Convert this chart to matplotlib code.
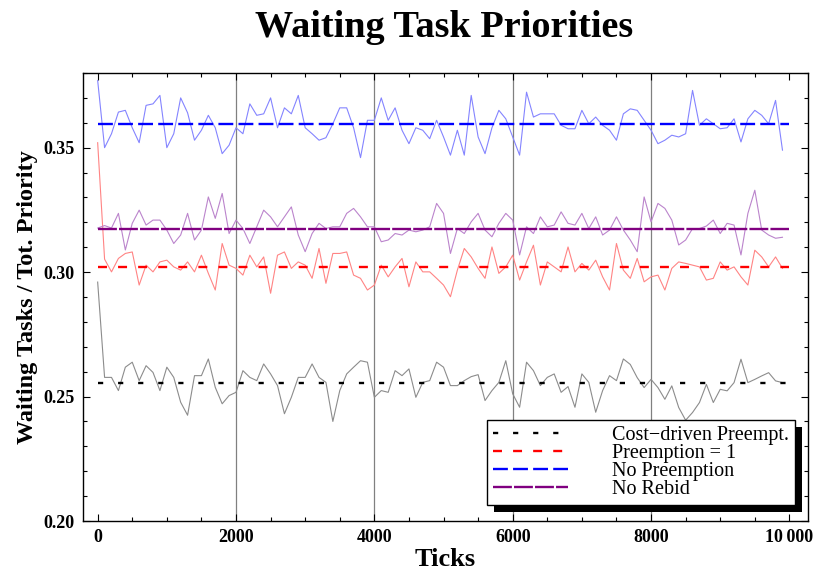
import matplotlib

matplotlib.use("Agg")
import matplotlib.pyplot as plt
import numpy as np
from matplotlib.patches import Rectangle
from matplotlib.ticker import MultipleLocator
from matplotlib.transforms import IdentityTransform

plt.rcParams["font.family"] = ["Liberation Serif", "DejaVu Serif"]

# Simulation ticks (one sample every 100 ticks)
ticks = np.arange(0, 9901, 100)
run_length = 10000

cost_driven = [
    0.2960, 0.2577, 0.2577, 0.2524, 0.2618, 0.2638, 0.2564, 0.2624, 0.2597, 0.2524,
    0.2618, 0.2577, 0.2477, 0.2425, 0.2584, 0.2584, 0.2651, 0.2537, 0.2471, 0.2504,
    0.2517, 0.2604, 0.2577, 0.2564, 0.2631, 0.2591, 0.2544, 0.2431, 0.2497, 0.2577,
    0.2577, 0.2631, 0.2577, 0.2557, 0.2400, 0.2524, 0.2591, 0.2618, 0.2644, 0.2638,
    0.2497, 0.2524, 0.2517, 0.2604, 0.2584, 0.2611, 0.2497, 0.2557, 0.2564, 0.2638,
    0.2618, 0.2544, 0.2544, 0.2564, 0.2580, 0.2588, 0.2484, 0.2524, 0.2557, 0.2644,
    0.2511, 0.2457, 0.2638, 0.2604, 0.2544, 0.2577, 0.2591, 0.2517, 0.2540, 0.2457,
    0.2591, 0.2557, 0.2437, 0.2524, 0.2584, 0.2564, 0.2651, 0.2629, 0.2576, 0.2536,
    0.2569, 0.2536, 0.2489, 0.2543, 0.2456, 0.2405, 0.2436, 0.2476, 0.2549, 0.2476,
    0.2529, 0.2523, 0.2556, 0.2650, 0.2556, 0.2569, 0.2583, 0.2596, 0.2563, 0.2556,
]
preemption_one = [
    0.3520, 0.3052, 0.3001, 0.3055, 0.3075, 0.3081, 0.2948, 0.3028, 0.3001, 0.3041,
    0.3048, 0.3021, 0.3008, 0.3041, 0.3001, 0.3068, 0.2995, 0.2928, 0.3115, 0.3028,
    0.3015, 0.2988, 0.3068, 0.3021, 0.3061, 0.2915, 0.3068, 0.3081, 0.3015, 0.3041,
    0.3028, 0.2975, 0.3095, 0.2955, 0.3075, 0.3075, 0.3081, 0.2988, 0.2975, 0.2928,
    0.2948, 0.3028, 0.2981, 0.3021, 0.3055, 0.2941, 0.3041, 0.3001, 0.3001, 0.2975,
    0.2948, 0.2901, 0.3008, 0.3095, 0.3061, 0.3015, 0.2975, 0.3101, 0.2995, 0.3021,
    0.3068, 0.2968, 0.3041, 0.3108, 0.2948, 0.3041, 0.3021, 0.3001, 0.3101, 0.3001,
    0.3035, 0.3008, 0.3048, 0.2981, 0.2928, 0.3115, 0.3008, 0.2975, 0.3055, 0.2961,
    0.2981, 0.2988, 0.2928, 0.3015, 0.3041, 0.3035, 0.3028, 0.3021, 0.2968, 0.2975,
    0.3041, 0.3008, 0.3021, 0.2981, 0.2948, 0.3088, 0.3061, 0.3021, 0.3061, 0.3015,
]
no_preemption = [
    0.3770, 0.3500, 0.3556, 0.3643, 0.3650, 0.3580, 0.3520, 0.3670, 0.3676, 0.3710,
    0.3500, 0.3556, 0.3700, 0.3640, 0.3530, 0.3570, 0.3630, 0.3580, 0.3476, 0.3510,
    0.3580, 0.3556, 0.3676, 0.3630, 0.3636, 0.3700, 0.3580, 0.3660, 0.3636, 0.3710,
    0.3580, 0.3556, 0.3530, 0.3540, 0.3596, 0.3660, 0.3660, 0.3580, 0.3460, 0.3610,
    0.3610, 0.3700, 0.3610, 0.3660, 0.3570, 0.3516, 0.3580, 0.3570, 0.3536, 0.3610,
    0.3543, 0.3470, 0.3570, 0.3470, 0.3710, 0.3543, 0.3476, 0.3580, 0.3650, 0.3616,
    0.3543, 0.3470, 0.3723, 0.3623, 0.3636, 0.3636, 0.3636, 0.3590, 0.3576, 0.3576,
    0.3650, 0.3596, 0.3623, 0.3590, 0.3570, 0.3530, 0.3636, 0.3656, 0.3650, 0.3610,
    0.3570, 0.3516, 0.3530, 0.3550, 0.3543, 0.3556, 0.3730, 0.3590, 0.3616, 0.3596,
    0.3576, 0.3580, 0.3616, 0.3523, 0.3616, 0.3650, 0.3630, 0.3596, 0.3690, 0.3490,
]
no_rebid = [
    0.3177, 0.3187, 0.3177, 0.3236, 0.3089, 0.3196, 0.3249, 0.3189, 0.3209, 0.3209,
    0.3169, 0.3115, 0.3149, 0.3236, 0.3129, 0.3169, 0.3302, 0.3216, 0.3316, 0.3155,
    0.3209, 0.3175, 0.3115, 0.3182, 0.3249, 0.3222, 0.3182, 0.3222, 0.3262, 0.3149,
    0.3082, 0.3155, 0.3196, 0.3175, 0.3182, 0.3182, 0.3236, 0.3256, 0.3222, 0.3182,
    0.3182, 0.3122, 0.3129, 0.3155, 0.3149, 0.3169, 0.3162, 0.3169, 0.3182, 0.3276,
    0.3236, 0.3075, 0.3175, 0.3155, 0.3202, 0.3236, 0.3169, 0.3142, 0.3196, 0.3236,
    0.3209, 0.3069, 0.3182, 0.3155, 0.3222, 0.3182, 0.3189, 0.3242, 0.3196, 0.3189,
    0.3236, 0.3175, 0.3222, 0.3149, 0.3169, 0.3222, 0.3169, 0.3129, 0.3082, 0.3302,
    0.3202, 0.3276, 0.3256, 0.3209, 0.3109, 0.3129, 0.3175, 0.3175, 0.3185, 0.3209,
    0.3155, 0.3196, 0.3189, 0.3069, 0.3236, 0.3329, 0.3169, 0.3149, 0.3136, 0.3140,
]

series_labels = ["Cost\u2212driven Preempt.", "Preemption = 1", "No Preemption", "No Rebid"]
mean_levels = [0.2555, 0.3020, 0.3595, 0.3175]

x_major = [0, 2000, 4000, 6000, 8000, 10000]
x_major_labels = ["0", "2000", "4000", "6000", "8000", "10\u2009000"]
y_major = [0.20, 0.25, 0.30, 0.35]
grid_ticks = [2000, 4000, 6000, 8000]

trace_colors = ["#8c8c8c", "#ff8484", "#8484ff", "#bb84cc"]
mean_colors = ["#000000", "#ff0000", "#0000ff", "#800080"]
mean_dashes = [(2.2, 6.3), (3.8, 4.7), (6.3, 2.2), (8.0, 0.9)]

fig = plt.figure(figsize=(8.17, 5.72), dpi=100)
ax = fig.add_axes([83 / 817, 1 - 521 / 572, 725 / 817, 448 / 572])

for gx in grid_ticks:
    ax.axvline(gx, color="#808080", linewidth=0.9, zorder=1)

all_series = [cost_driven, preemption_one, no_preemption, no_rebid]
for values, color in zip(all_series, trace_colors):
    ax.plot(ticks, values, color=color, linewidth=0.8, zorder=2)

handles = []
for level, color, dash in zip(mean_levels, mean_colors, mean_dashes):
    (line,) = ax.plot([ticks[0], run_length], [level, level], color=color,
                      linewidth=1.7, linestyle=(0, dash), zorder=3)
    handles.append(line)

ax.set_xlim(-212, 10269)
ax.set_ylim(0.20, 0.38)
ax.set_xticks(x_major)
ax.set_xticklabels(x_major_labels)
ax.set_yticks(y_major)
ax.set_yticklabels([f"{v:.2f}" for v in y_major])
ax.xaxis.set_minor_locator(MultipleLocator(500))
ax.yaxis.set_minor_locator(MultipleLocator(0.01))
ax.tick_params(which="both", direction="in", top=True, right=True, width=0.8)
ax.tick_params(which="major", length=5, labelsize=13, pad=6)
ax.tick_params(which="minor", length=3)
for lbl in ax.get_xticklabels() + ax.get_yticklabels():
    lbl.set_fontweight("bold")
for spine in ax.spines.values():
    spine.set_linewidth(1.0)

ax.set_xlabel("Ticks", fontsize=19, fontweight="bold", va="center")
ax.xaxis.set_label_coords(0.5, -0.085)
ax.set_ylabel("Waiting Tasks / Tot. Priority", fontsize=17.5, fontweight="bold", va="center")
ax.yaxis.set_label_coords(-0.076, 0.5)
fig.text(0.543, 0.952, "Waiting Task Priorities", fontsize=27.5, fontweight="bold",
         ha="center", va="center")

leg = ax.legend(handles, series_labels, loc="lower right", bbox_to_anchor=(0.982, 0.036),
                borderaxespad=0, fancybox=False, framealpha=1, edgecolor="black",
                fontsize=14.5, handlelength=3.7, handletextpad=2.2, labelspacing=-0.06,
                borderpad=0.3)
leg.get_frame().set_linewidth(1.0)
leg.set_zorder(6)

# hard black drop shadow behind the legend box
fig.canvas.draw()
bb = leg.get_window_extent()
ax.add_patch(Rectangle((bb.x0 + 7, bb.y0 - 7), bb.width, bb.height,
                       transform=IdentityTransform(), facecolor="black",
                       edgecolor="none", zorder=5.9, clip_on=False))

fig.savefig("out.png", dpi=100)
